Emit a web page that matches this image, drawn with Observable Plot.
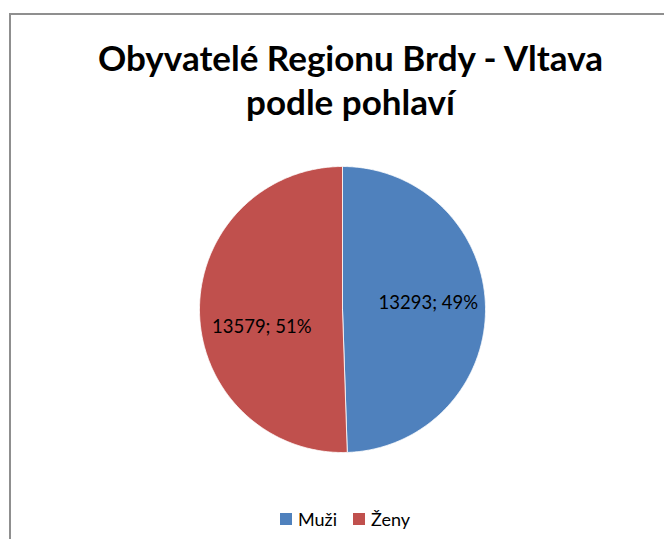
<!DOCTYPE html>
<html>
<head>
<meta charset="utf-8">
<script src="https://cdn.jsdelivr.net/npm/d3@7"></script>
<script src="https://cdn.jsdelivr.net/npm/@observablehq/plot@0.6"></script>
<style>
  html, body { margin: 0; padding: 0; background: #fff; }
  #wrap { position: relative; width: 664px; height: 539px; overflow: hidden; background: #fff; }
  #frame { position: absolute; left: 9px; top: 13px; width: 800px; height: 700px;
           border-left: 2px solid #8f8f8f; border-top: 2px solid #8f8f8f; }
  #title { position: absolute; left: 0; width: 701px; top: 35px; text-align: center;
           font-family: Lato, "Open Sans", sans-serif; font-weight: 700; font-size: 35px;
           line-height: 44px; color: #000; z-index: 2; }
  #chart { position: absolute; left: 0; top: 0; z-index: 1; }
  #legend { position: absolute; top: 508px; left: 280px; display: flex; align-items: center;
            font-family: Lato, "Open Sans", sans-serif; font-size: 18px; color: #000; z-index: 2; }
  .sw { display: inline-block; width: 12px; height: 12px; margin-right: 6px; }
  .item { display: flex; align-items: center; margin-right: 16px; }
</style>
</head>
<body>
<div id="wrap">
  <div id="frame"></div>
  <div id="title">Obyvatelé Regionu Brdy - Vltava<br>podle pohlaví</div>
  <div id="chart"></div>
  <div id="legend"></div>
</div>
<script>
const categories = ["Muži", "Ženy"];
const values = [13293, 13579];
const percentLabels = ["49%", "51%"];
const colors = ["#4F81BD", "#C0504D"];

const total = d3.sum(values);
// slice polygons (clockwise from 12 o'clock), in unit-circle coordinates
const slices = [];
const labels = [];
let acc = 0;
categories.forEach((c, i) => {
  const a0 = acc / total * 2 * Math.PI;
  acc += values[i];
  const a1 = acc / total * 2 * Math.PI;
  const n = Math.max(2, Math.ceil((a1 - a0) / (Math.PI / 360)));
  slices.push({name: c, x: 0, y: 0});
  for (let k = 0; k <= n; k++) {
    const a = a0 + (a1 - a0) * k / n;
    slices.push({name: c, x: Math.sin(a), y: Math.cos(a)});
  }
  slices.push({name: c, x: 0, y: 0});
  const m = (a0 + a1) / 2;
  labels.push({name: c, x: 0.6 * Math.sin(m), y: 0.6 * Math.cos(m), text: `${values[i]}; ${percentLabels[i]}`});
});

const cx = 342, cy = 309, r = 143;
const plot = Plot.plot({
  width: 664, height: 539,
  margin: 0,
  style: {background: "transparent"},
  x: {domain: [-1, 1], range: [cx - r, cx + r], axis: null},
  y: {domain: [-1, 1], range: [cy + r, cy - r], axis: null},
  color: {domain: categories, range: colors},
  marks: [
    Plot.line(slices, {x: "x", y: "y", z: "name", fill: "name", stroke: "white", strokeWidth: 0.8, curve: "linear"}),
    Plot.text(labels.filter(d => d.name === categories[0]), {x: "x", y: "y", text: "text", dy: -5,
      fontSize: 18.5, fontFamily: "Lato, 'Open Sans', sans-serif", fill: "#000"}),
    Plot.text(labels.filter(d => d.name === categories[1]), {x: "x", y: "y", text: "text", dx: 5, dy: 16,
      fontSize: 18.5, fontFamily: "Lato, 'Open Sans', sans-serif", fill: "#000"})
  ]
});
document.getElementById("chart").appendChild(plot);

const leg = document.getElementById("legend");
categories.forEach((c, i) => {
  const it = document.createElement("div");
  it.className = "item";
  const sw = document.createElement("span");
  sw.className = "sw";
  sw.style.background = plot.scale("color").apply(c);
  it.appendChild(sw);
  it.appendChild(document.createTextNode(c));
  leg.appendChild(it);
});
</script>
</body>
</html>
